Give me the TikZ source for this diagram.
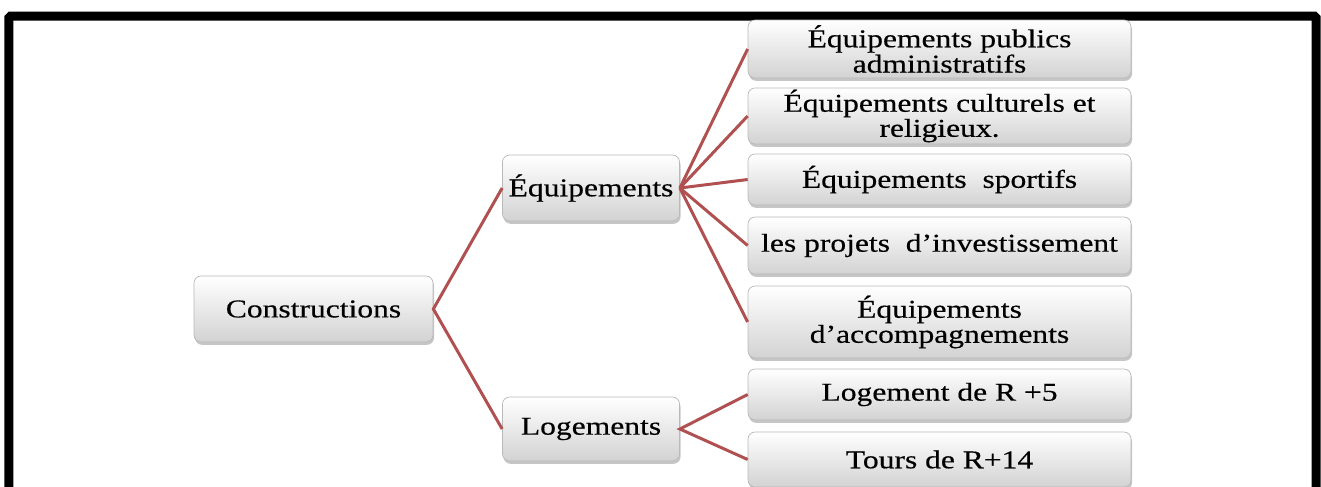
\documentclass[tikz,border=0pt]{standalone}
\usepackage{fontspec}
\newfontfamily\boxfont[FakeStretch=1.23,FakeBold=0.4]{Liberation Serif}
\usepackage{tikz}
\usetikzlibrary{positioning,shadows}
\usepackage{xcolor}
\definecolor{linkred}{RGB}{176,80,80}

\begin{document}
\begin{tikzpicture}[
  box/.style={rectangle, draw=gray!55, rounded corners=4pt,
              top color=white, bottom color=gray!35,
              drop shadow={opacity=0.45, shadow xshift=0.6pt, shadow yshift=-1.6pt},
              align=center, inner sep=1pt,
              font=\boxfont\fontsize{14.6pt}{12.8pt}\selectfont},
  leaf/.style={box, minimum width=7.66cm},
  link/.style={draw=linkred, line width=1.7pt}
]
  \useasboundingbox (0,0) rectangle (26.42,-9.72);

  % Frame
  \draw[line width=0.18cm, rounded corners=1pt]
       (0.18,-10) -- (0.18,-0.32) -- (26.32,-0.32) -- (26.32,-10);

  % Nodes
  \node[box, minimum width=4.78cm, minimum height=1.32cm] (cons) at (6.27,-6.18) {Constructions};
  \node[box, minimum width=3.54cm, minimum height=1.32cm] (equip) at (11.82,-3.76) {Équipements};
  \node[box, minimum width=3.54cm, minimum height=1.28cm] (loge) at (11.82,-8.58) {Logements};

  \node[leaf, minimum height=1.16cm] (pub)  at (18.79,-0.98) {Équipements publics\\administratifs};
  \node[leaf, minimum height=1.08cm] (cult) at (18.79,-2.32) {Équipements culturels et\\religieux.};
  \node[leaf, minimum height=1.02cm] (spor) at (18.79,-3.59) {Équipements\ \ sportifs};
  \node[leaf, minimum height=1.14cm] (inv)  at (18.79,-4.91) {les projets\ \ d’investissement};
  \node[leaf, minimum height=1.44cm] (acc)  at (18.79,-6.44) {Équipements\\d’accompagnements};
  \node[leaf, minimum height=1.02cm] (rfive) at (18.79,-7.89) {Logement de R +5};
  \node[leaf, minimum height=1.10cm] (rfourteen) at (18.79,-9.19) {Tours de R+14};

  % Connectors
  \draw[link] (equip.west) -- (cons.east) -- (loge.west);
  \foreach \t in {pub,cult,spor,inv,acc}
    \draw[link] (equip.east) -- (\t.west);
  \draw[link] (rfive.west) -- (loge.east) -- (rfourteen.west);
\end{tikzpicture}
\end{document}
